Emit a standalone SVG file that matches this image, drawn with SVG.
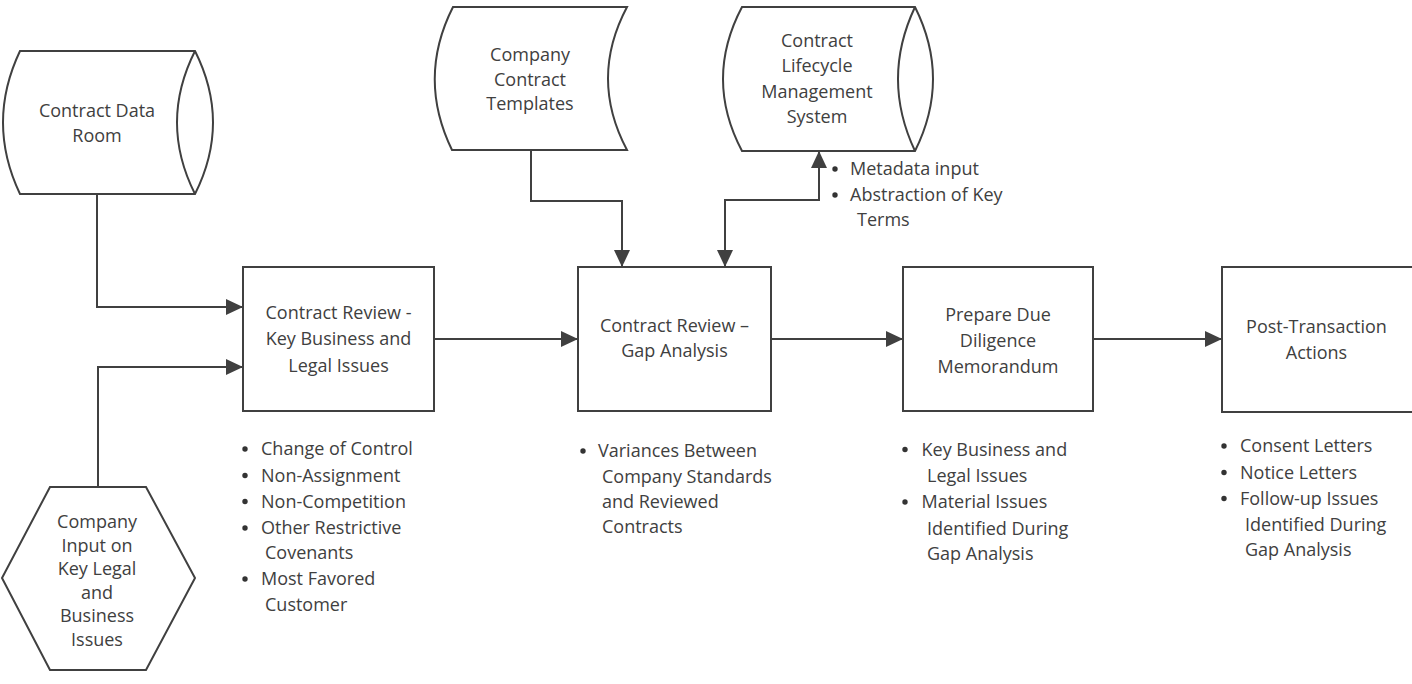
<svg xmlns="http://www.w3.org/2000/svg" width="1412" height="684" viewBox="0 0 1412 684">
<defs>
<marker id="ah" markerUnits="userSpaceOnUse" viewBox="0 0 17 16" refX="17" refY="8" markerWidth="17" markerHeight="16" orient="auto-start-reverse">
<path d="M0,0 L17,8 L0,16 z" fill="#404040"/>
</marker>
<style>
.shape{fill:#ffffff;stroke:#404040;stroke-width:2;stroke-linejoin:miter}
.conn{fill:none;stroke:#404040;stroke-width:2}
.dot{fill:#333333}
text{font-family:"Open Sans","Noto Sans",sans-serif;font-size:18px;fill:#404040}
.c{text-anchor:middle}
</style>
</defs>
<rect width="1412" height="684" fill="#ffffff"/>

<g id="connectors">
<path class="conn" d="M97,194 V307 H243" marker-end="url(#ah)"/>
<path class="conn" d="M98,487 V367 H243" marker-end="url(#ah)"/>
<path class="conn" d="M434,339 H578" marker-end="url(#ah)"/>
<path class="conn" d="M771,339 H903" marker-end="url(#ah)"/>
<path class="conn" d="M1093,339 H1222" marker-end="url(#ah)"/>
<path class="conn" d="M531,150 V201 H622 V267" marker-end="url(#ah)"/>
<path class="conn" d="M725,267 V200 H819 V151" marker-start="url(#ah)" marker-end="url(#ah)"/>
</g>

<g id="contract-data-room">
<path class="shape" d="M20,51 H195 Q231,122.5 195,194 H20 Q-14,122.5 20,51 z"/>
<path class="conn" d="M195,51 Q159,122.5 195,194"/>
<text class="c" x="97" y="117">Contract Data</text>
<text class="c" x="97" y="141.5">Room</text>
</g>

<g id="company-contract-templates">
<path class="shape" d="M453,7 H627 Q589,78.5 627,150 H452 Q417,78 453,7 z"/>
<text class="c" x="530" y="61">Company</text>
<text class="c" x="530" y="85.5">Contract</text>
<text class="c" x="530" y="110">Templates</text>
</g>

<g id="clm-system">
<path class="shape" d="M742,7 H915 Q951,79 915,151 H742 Q704,79 742,7 z"/>
<path class="conn" d="M915,7 Q881,79 915,151"/>
<text class="c" x="817" y="47">Contract</text>
<text class="c" x="817" y="72">Lifecycle</text>
<text class="c" x="817" y="97.5">Management</text>
<text class="c" x="817" y="122.5">System</text>
</g>

<g id="clm-notes">
<circle class="dot" cx="835" cy="169" r="2.7"/>
<text x="850" y="175">Metadata input</text>
<circle class="dot" cx="835" cy="195" r="2.7"/>
<text x="850" y="201">Abstraction of Key</text>
<text x="857" y="226">Terms</text>
</g>

<g id="company-input">
<path class="shape" d="M50,487 H146 L195,578 L146,670 H50 L2,578 z"/>
<text class="c" x="97" y="528">Company</text>
<text class="c" x="97" y="551.5">Input on</text>
<text class="c" x="97" y="575">Key Legal</text>
<text class="c" x="97" y="598.5">and</text>
<text class="c" x="97" y="622">Business</text>
<text class="c" x="97" y="645.5">Issues</text>
</g>

<g id="review-key-issues">
<rect class="shape" x="243" y="267" width="191" height="144"/>
<text class="c" x="338.5" y="318.5">Contract Review -</text>
<text class="c" x="338.5" y="345">Key Business and</text>
<text class="c" x="338.5" y="371.5">Legal Issues</text>
</g>

<g id="review-key-issues-notes">
<circle class="dot" cx="245" cy="449" r="2.7"/><text x="261" y="455">Change of Control</text>
<circle class="dot" cx="245" cy="475.5" r="2.7"/><text x="261" y="481.5">Non-Assignment</text>
<circle class="dot" cx="245" cy="501.5" r="2.7"/><text x="261" y="507.5">Non-Competition</text>
<circle class="dot" cx="245" cy="528" r="2.7"/><text x="261" y="534">Other Restrictive</text>
<text x="265" y="558.5">Covenants</text>
<circle class="dot" cx="245" cy="579" r="2.7"/><text x="261" y="585">Most Favored</text>
<text x="265" y="611">Customer</text>
</g>

<g id="gap-analysis">
<rect class="shape" x="578" y="267" width="193" height="144"/>
<text class="c" x="674.5" y="332">Contract Review –</text>
<text class="c" x="674.5" y="357">Gap Analysis</text>
</g>

<g id="gap-analysis-notes">
<circle class="dot" cx="583" cy="451" r="2.7"/><text x="598" y="457">Variances Between</text>
<text x="602" y="483">Company Standards</text>
<text x="602" y="508">and Reviewed</text>
<text x="602" y="533">Contracts</text>
</g>

<g id="dd-memo">
<rect class="shape" x="903" y="267" width="190" height="144"/>
<text class="c" x="998" y="321">Prepare Due</text>
<text class="c" x="998" y="347">Diligence</text>
<text class="c" x="998" y="372.5">Memorandum</text>
</g>

<g id="dd-memo-notes">
<circle class="dot" cx="905" cy="449.5" r="2.7"/><text x="921.5" y="455.5">Key Business and</text>
<text x="927" y="482">Legal Issues</text>
<circle class="dot" cx="905" cy="502" r="2.7"/><text x="921.5" y="508">Material Issues</text>
<text x="927" y="534.5">Identified During</text>
<text x="927" y="560">Gap Analysis</text>
</g>

<g id="post-transaction">
<rect class="shape" x="1222" y="267" width="200" height="145"/>
<text class="c" x="1316.5" y="333">Post-Transaction</text>
<text class="c" x="1316.5" y="358.5">Actions</text>
</g>

<g id="post-transaction-notes">
<circle class="dot" cx="1224" cy="446" r="2.7"/><text x="1240" y="452">Consent Letters</text>
<circle class="dot" cx="1224" cy="472.5" r="2.7"/><text x="1240" y="478.5">Notice Letters</text>
<circle class="dot" cx="1224" cy="498.5" r="2.7"/><text x="1240" y="504.5">Follow-up Issues</text>
<text x="1245" y="531">Identified During</text>
<text x="1245" y="556">Gap Analysis</text>
</g>
</svg>
